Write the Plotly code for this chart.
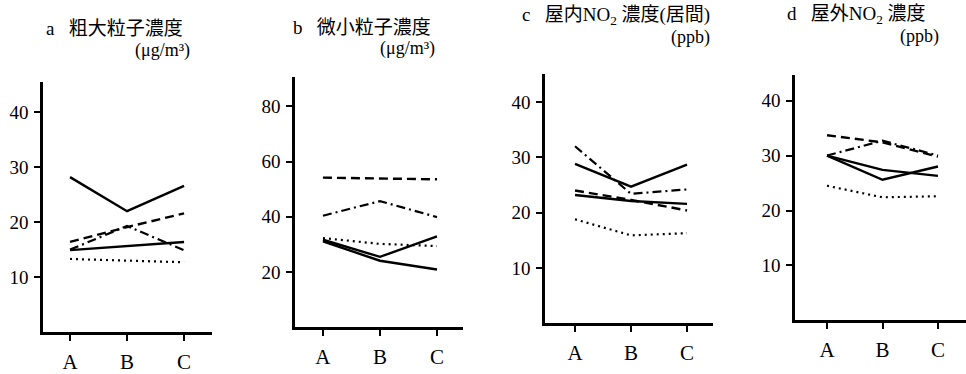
import plotly.graph_objects as go

categories = ["A", "B", "C"]
xpos = [0, 1, 2]

# Panel a: 粗大粒子濃度 (μg/m3)
a_solid1 = [28.2, 22.0, 26.6]
a_solid2 = [14.9, 15.6, 16.4]
a_dash = [16.4, 19.1, 21.6]
a_dashdot = [15.0, 19.3, 14.9]
a_dot = [13.3, 13.0, 12.7]
a_ticks = [10, 20, 30, 40]

# Panel b: 微小粒子濃度 (μg/m3)
b_solid1 = [31.7, 25.5, 32.9]
b_solid2 = [31.1, 24.1, 20.9]
b_dash = [54.2, 53.8, 53.6]
b_dashdot = [40.4, 45.7, 39.9]
b_dot = [32.3, 30.2, 29.4]
b_ticks = [20, 40, 60, 80]

# Panel c: 屋内NO2濃度(居間) (ppb)
c_solid1 = [28.8, 24.7, 28.7]
c_solid2 = [23.2, 22.1, 21.6]
c_dash = [24.0, 22.3, 20.4]
c_dashdot = [32.0, 23.4, 24.2]
c_dot = [18.8, 15.9, 16.3]
c_ticks = [10, 20, 30, 40]

# Panel d: 屋外NO2濃度 (ppb)
d_solid1 = [30.0, 27.4, 26.3]
d_solid2 = [30.0, 25.6, 28.0]
d_dash = [33.7, 32.4, 29.8]
d_dashdot = [30.0, 32.7, 30.0]
d_dot = [24.5, 22.4, 22.6]
d_ticks = [10, 20, 30, 40]

W, H = 966, 374
FONT = "Liberation Serif, Noto Sans CJK JP, serif"

styles = {
    "solid": dict(dash="solid", width=2.4),
    "dash": dict(dash="9px,5px", width=2.4),
    "dashdot": dict(dash="9px,4px,2px,4px", width=2.2),
    "dot": dict(dash="2px,4px", width=2.2),
}

panels = [
    dict(series=[(a_solid1, "solid"), (a_solid2, "solid"), (a_dash, "dash"), (a_dashdot, "dashdot"), (a_dot, "dot")],
         ticks=a_ticks, xpx=(43, 212), ypx=(344, 85), xr=(-0.474, 2.49), yr=(0, 45.5)),
    dict(series=[(b_solid1, "solid"), (b_solid2, "solid"), (b_dash, "dash"), (b_dashdot, "dashdot"), (b_dot, "dot")],
         ticks=b_ticks, xpx=(295, 463), ypx=(339, 80), xr=(-0.49, 2.456), yr=(0, 90.6)),
    dict(series=[(c_solid1, "solid"), (c_solid2, "solid"), (c_dash, "dash"), (c_dashdot, "dashdot"), (c_dot, "dot")],
         ticks=c_ticks, xpx=(545, 713), ypx=(335, 77), xr=(-0.536, 2.464), yr=(0, 45.0)),
    dict(series=[(d_solid1, "solid"), (d_solid2, "solid"), (d_dash, "dash"), (d_dashdot, "dashdot"), (d_dot, "dot")],
         ticks=d_ticks, xpx=(795, 966), ypx=(332, 78), xr=(-0.577, 2.505), yr=(0, 44.6)),
]

fig = go.Figure()
layout = {}
for i, p in enumerate(panels):
    n = "" if i == 0 else str(i + 1)
    for vals, st in p["series"]:
        fig.add_trace(go.Scatter(x=xpos, y=vals, mode="lines", xaxis="x" + n, yaxis="y" + n,
                                 line=dict(color="black", **styles[st]), showlegend=False,
                                 hoverinfo="skip"))
    layout["xaxis" + n] = dict(
        domain=[p["xpx"][0] / W, min(p["xpx"][1] / W, 1)], anchor="y" + n,
        range=list(p["xr"]), tickvals=xpos, ticktext=categories,
        showline=True, linecolor="black", linewidth=2.5, showgrid=False, zeroline=False,
        ticks="outside", ticklen=6, tickwidth=2, tickcolor="black",
        ticklabelstandoff=3,
        tickfont=dict(family=FONT, size=21, color="black"), fixedrange=True)
    layout["yaxis" + n] = dict(
        domain=[(H - p["ypx"][0]) / H, (H - p["ypx"][1]) / H], anchor="x" + n,
        range=list(p["yr"]), tickvals=p["ticks"],
        showline=True, linecolor="black", linewidth=2.5, showgrid=False, zeroline=False,
        ticks="outside", ticklen=6, tickwidth=2, tickcolor="black",
        ticklabelstandoff=2,
        tickfont=dict(family=FONT, size=19, color="black"), fixedrange=True)

titles = [
    # (x_px, y_center_px, text, anchor, size)
    (44, 30, "a   粗大粒子濃度", "left", 19),
    (192, 52, "(μg/m³)", "right", 18),
    (291, 28, "b   微小粒子濃度", "left", 19),
    (437, 50, "(μg/m³)", "right", 18),
    (520, 17, "c   屋内NO<sub>2</sub> 濃度(居間)", "left", 19),
    (712, 39, "(ppb)", "right", 18),
    (785, 16, "d   屋外NO<sub>2</sub> 濃度", "left", 19),
    (941, 38, "(ppb)", "right", 18),
]
annotations = []
for x, y, t, anc, sz in titles:
    annotations.append(dict(x=x / W, y=(H - y) / H, xref="paper", yref="paper", text=t,
                            showarrow=False, xanchor=anc, yanchor="middle",
                            font=dict(family=FONT, size=sz, color="black")))

fig.update_layout(width=W, height=H, margin=dict(l=0, r=0, t=0, b=0),
                  paper_bgcolor="white", plot_bgcolor="white",
                  annotations=annotations, **layout)

fig.write_html("out.html", config={"displayModeBar": False})
